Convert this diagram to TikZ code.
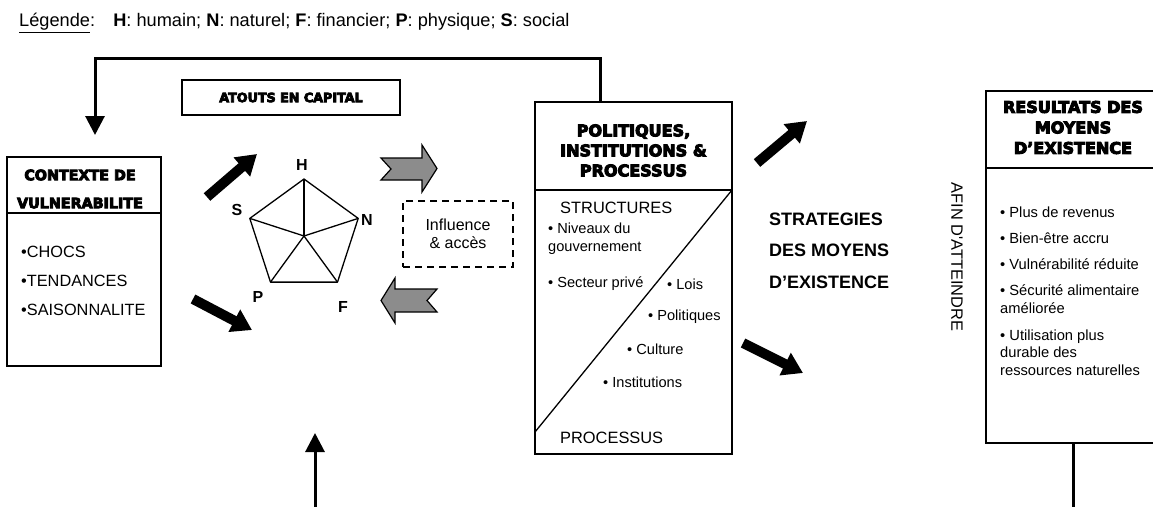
\documentclass[tikz,border=0pt]{standalone}
\usepackage{fontspec}
\setmainfont{Liberation Sans}
\newfontfamily\blackfont{DejaVu Sans}[UprightFont={* Bold}, UprightFeatures={FakeBold=6}]
\usetikzlibrary{arrows.meta}

\begin{document}
\begin{tikzpicture}[x=1pt, y=-1pt,
  box/.style={draw, line width=1.6pt, inner sep=0pt},
  rule/.style={line width=1.6pt},
  web/.style={line width=1.3pt, line join=round},
  title/.style 2 args={font=\blackfont\fontsize{#1}{#2}\selectfont, align=center, inner sep=0pt},
  item/.style={font=\fontsize{#1}{17.5}\selectfont, anchor=west, align=left, inner sep=0pt},
  vtx/.style={font=\bfseries\fontsize{16}{18}\selectfont, inner sep=0pt},
  rod/.style={line width=3pt},
  conn/.style={line width=3pt, -{Triangle[length=19pt,width=19pt]}},
  push/.style={line width=10pt, -{Triangle[length=20pt,width=24pt]}},
  swap/.style={draw, line width=1.2pt, fill=black!45}]

\useasboundingbox (0,0) rectangle (1153,506);

\node[anchor=west, font=\fontsize{18.2}{20}\selectfont, inner sep=0pt] (legend) at (19,23)
  {\underline{Légende}:\quad\textbf{H}: humain; \textbf{N}: naturel; \textbf{F}: financier; \textbf{P}: physique; \textbf{S}: social};

% contexte de vulnerabilite
\node[box, minimum width=154pt, minimum height=209pt] (ctx) at (84,261.5) {};
\draw[rule] (7,213) -- (161,213);
\node[title={14.3}{28}] (ctxhead) at (80,189) {CONTEXTE DE\\VULNERABILITE};
\foreach \t [count=\i] in {CHOCS, TENDANCES, SAISONNALITE}
  \node[item=16.3] (ctx\i) at (21,223+29*\i) {•\t};

% atouts en capital
\node[box, title={12.7}{16}, minimum width=218pt, minimum height=35pt] (cap) at (291,97.5) {ATOUTS EN CAPITAL};

\coordinate (O) at (304,236);
\foreach \v/\a in {H/-90, N/-18, F/54, P/126, S/198}
  \coordinate (\v) at ([shift={(\a:57)}]O);
\draw[web] (H) -- (N) -- (F) -- (P) -- (S) -- cycle;
\foreach \v in {H, N, F, P, S}
  \draw[web] (O) -- (\v);
\foreach \v/\x/\y in {H/302/165, N/367/220, F/343/307, P/258/297, S/237/210}
  \node[vtx] (lab\v) at (\x,\y) {\v};

\draw[push] (207,197) -- (257,154);
\draw[push] (193,299) -- (252,330);

\draw[swap] (381,158) -- (422,158) -- (422,145) -- (437,168.5) -- (422,192) -- (422,180) -- (381,180) -- (391,169) -- cycle;
\draw[swap] (437,289) -- (395,289) -- (395,278) -- (381,300.5) -- (395,323) -- (395,312) -- (437,312) -- (427,300.5) -- cycle;

\node[draw, line width=1.4pt, dash pattern=on 7pt off 5pt, minimum width=110pt, minimum height=66pt,
  align=center, font=\fontsize{16}{18}\selectfont] (infl) at (458,234) {Influence\\\& accès};

% politiques, institutions & processus
\node[box, minimum width=197pt, minimum height=352pt] (pip) at (633.5,278) {};
\draw[rule] (535,190) -- (732,190);
\draw[web] (732,190) -- (535,432);
\node[title={16}{20}] (piphead) at (633.5,150.5) {POLITIQUES,\\INSTITUTIONS \&\\PROCESSUS};
\node[item=16.4] (struct) at (560,208) {STRUCTURES};
\node[item=14.6] (niv) at (548,238.5) {• Niveaux du\\gouvernement};
\node[item=14.6] (priv) at (548,284) {• Secteur privé};
\node[item=14.6] (lois) at (667,284) {• Lois};
\node[item=14.6] (pol) at (648,317) {• Politiques};
\node[item=14.6] (cult) at (627,349) {• Culture};
\node[item=14.6] (inst) at (603,382) {• Institutions};
\node[item=16.4] (proc) at (560,438) {PROCESSUS};

\draw[push] (757,163) -- (807,121);
\draw[push] (743,343) -- (803,373);

\node[anchor=west, align=left, inner sep=0pt, font=\bfseries\fontsize{18}{31.5}\selectfont] (strat) at (769,250.5)
  {STRATEGIES\\DES MOYENS\\D’EXISTENCE};
\node[rotate=-90, inner sep=0pt, font=\fontsize{16.4}{20}\selectfont] (afin) at (957,257) {AFIN D\textquotesingle ATTEINDRE};

% resultats
\node[box, minimum width=174pt, minimum height=352pt] (res) at (1073,267) {};
\draw[rule] (986,168) -- (1160,168);
\node[title={16}{20.5}] (reshead) at (1073,127.5) {RESULTATS DES\\MOYENS\\D’EXISTENCE};
\node[item=14.7] (rev) at (1000,212) {• Plus de revenus};
\node[item=14.7] (bien) at (1000,238) {• Bien-être accru};
\node[item=14.7] (vuln) at (1000,264) {• Vulnérabilité réduite};
\node[item=14.7] (secu) at (1000,299) {• Sécurité alimentaire\\améliorée};
\node[item=14.7] (util) at (1000,352.5) {• Utilisation plus\\durable des\\ressources naturelles};

% retours
\coordinate (fbturn) at (600,58);
\coordinate (ctxin) at (95,135);
\draw[conn] (pip.north -| fbturn) -- (fbturn) -| (ctxin);
\coordinate (capfoot) at (315,510);
\coordinate (capin) at (315,433);
\draw[conn] (capfoot) -- (capin);
\coordinate (resfoot) at (1073,510);
\draw[rod] (res.south) -- (resfoot);

\end{tikzpicture}
\end{document}
